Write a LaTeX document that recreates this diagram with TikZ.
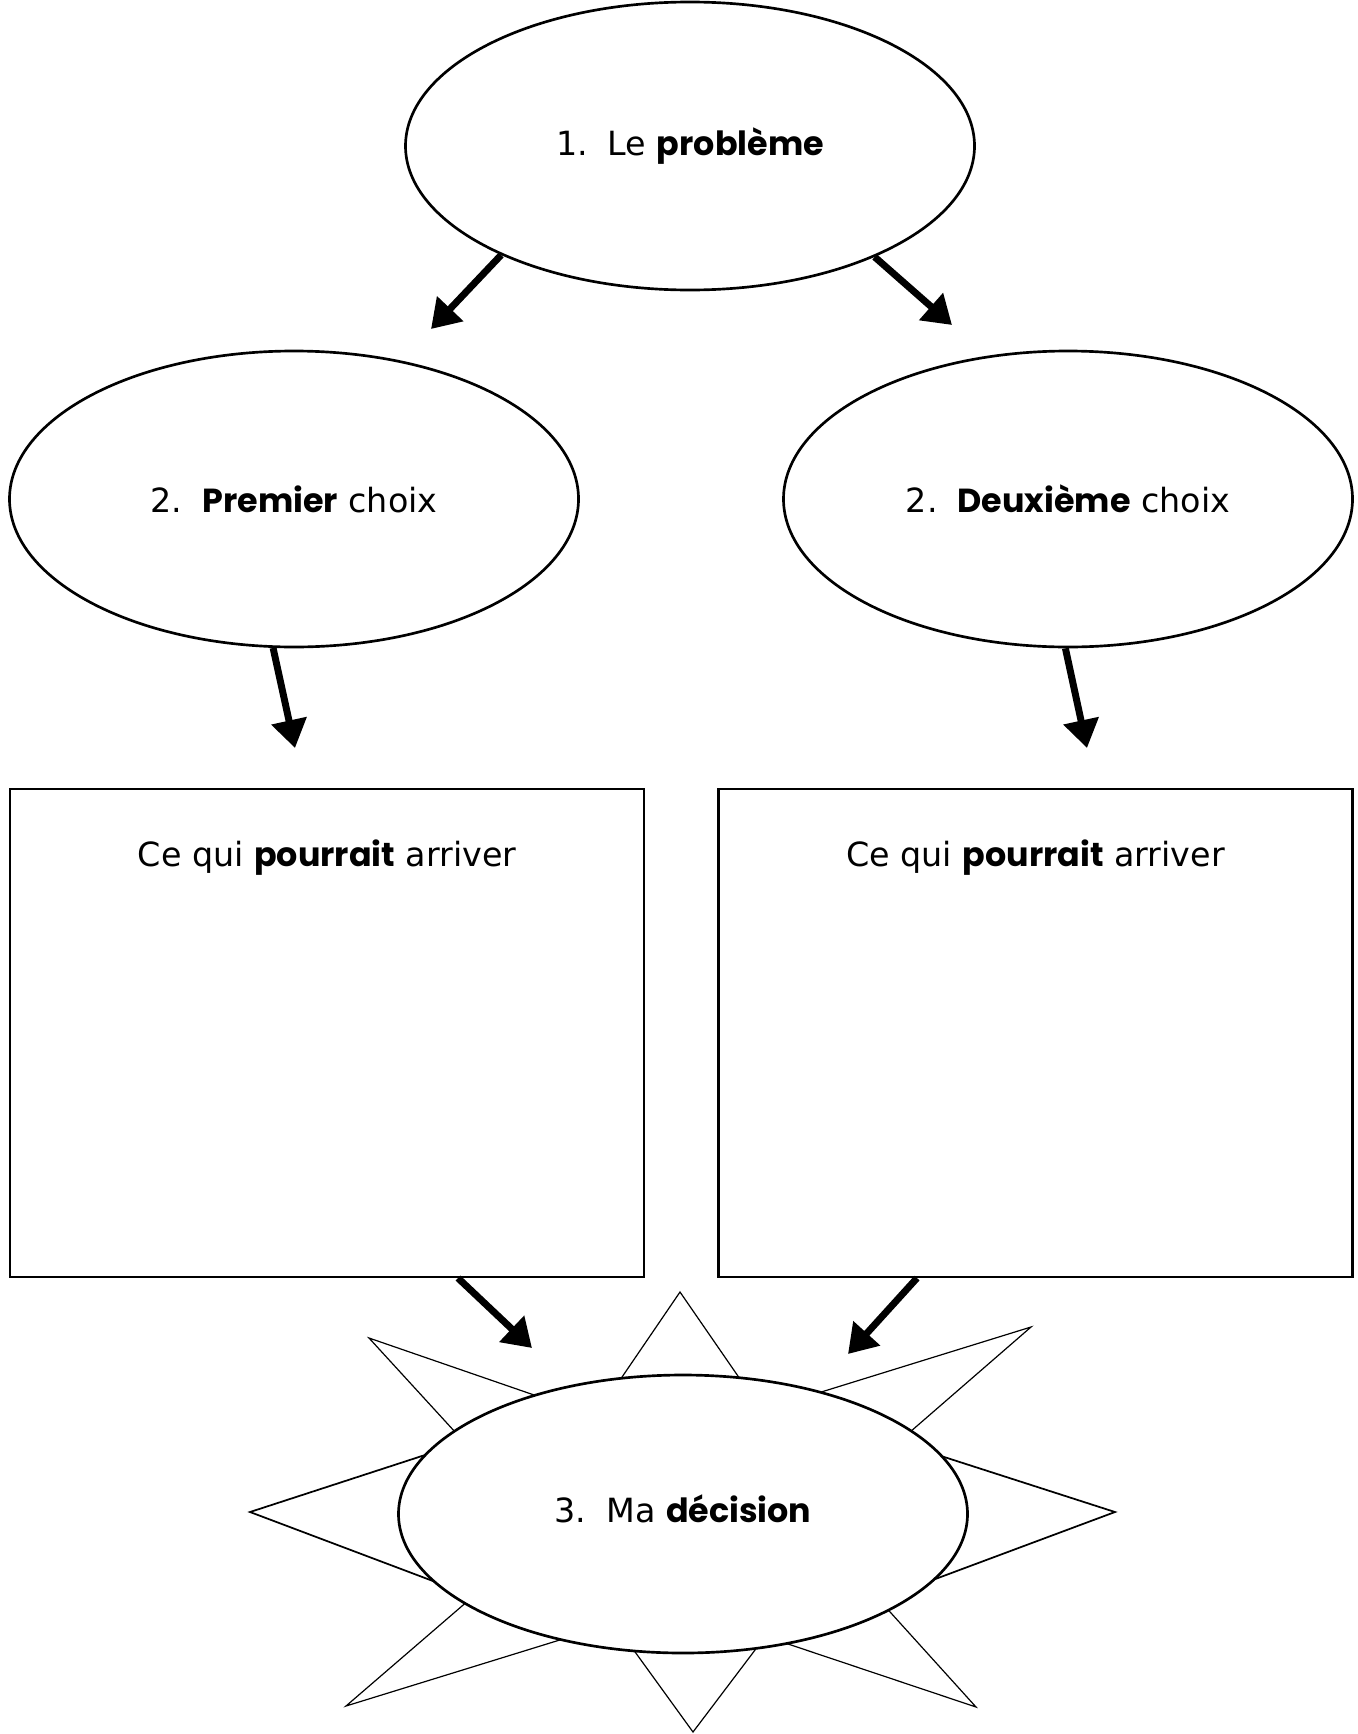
\documentclass[tikz,border=0pt]{standalone}
\usepackage{fontspec}
\setmainfont{DejaVu Sans}
\newfontfamily\boldfam{Poppins}
\usetikzlibrary{shapes.geometric,arrows.meta,calc}
\newcommand{\bw}[1]{{\boldfam\bfseries #1}}
\begin{document}
\begin{tikzpicture}[x=0.75pt,y=-0.75pt,
  txt/.style={font=\fontsize{25}{30}\selectfont},
  bubble/.style={ellipse, draw, line width=2pt, fill=white, inner sep=0pt,
    minimum width=426.75pt, minimum height=216pt, txt},
  panel/.style={rectangle, draw, line width=1.6pt, inner sep=0pt,
    minimum width=475.5pt, minimum height=366pt},
  bigarrow/.style={line width=5.2pt, -{Triangle[length=21pt,width=26pt]}},
  ray/.style={line width=0.9pt, line join=miter},
  thickray/.style={line width=1.3pt, line join=miter}]
\useasboundingbox (0,0) rectangle (1358,1734);
\fill[white] (0,0) rectangle (1358,1734);

% top problem
\node[bubble] (top) at (690,146) {1.\hspace{0.6em}Le \bw{problème}};
% choices
\node[bubble, minimum height=222pt] (L) at (294,499) {2.\hspace{0.6em}\bw{Premier} choix};
\node[bubble, minimum height=222pt] (R) at (1068,499) {2.\hspace{0.6em}\bw{Deuxième} choix};
% boxes
\node[panel] (boxL) at (327,1033) {};
\node[panel] (boxR) at (1035.5,1033) {};
\node[txt, anchor=base] (tL) at (327,866) {Ce qui \bw{pourrait} arriver};
\node[txt, anchor=base] (tR) at (1035.5,866) {Ce qui \bw{pourrait} arriver};

% arrow ends
\coordinate (e1) at (431,329);
\coordinate (e2) at (952,325);
\coordinate (e3) at (295,748);
\coordinate (e4) at (1087,748);
\coordinate (e5) at (532,1348);
\coordinate (e6) at (848,1354);

\draw[bigarrow] (top.210) -- (e1);
\draw[bigarrow] (top.329.4) -- (e2);
\draw[bigarrow] (L.262.7) -- (e3);
\draw[bigarrow] (R.269.6) -- (e4);
\draw[bigarrow] ([xshift=98.25pt]boxL.south) -- (e5);
\draw[bigarrow] ([xshift=-88.9pt]boxR.south) -- (e6);

% sun rays
\foreach \tp/\pa/\pb/\st in {
  {680,1292}/{620,1380}/{740,1379}/ray,
  {369,1338}/{537,1396}/{456,1433}/ray,
  {1031,1327}/{818,1393}/{910,1432}/ray,
  {250,1512}/{425,1455}/{425,1578}/thickray,
  {1115,1512}/{938,1455}/{938,1578}/thickray,
  {346,1706}/{462,1606}/{550,1643}/ray,
  {693,1732}/{638,1656}/{752,1654}/ray,
  {976,1707}/{891,1613}/{797,1647}/ray}
{
  \coordinate (t) at (\tp);
  \coordinate (a) at (\pa);
  \coordinate (b) at (\pb);
  \draw[\st] ($(t)!1.25!(a)$) -- (t) -- ($(t)!1.25!(b)$);
}

% decision
\node[bubble, minimum height=208.5pt] (dec) at (683,1514) {};
\node[txt, anchor=base] (dect) at (683,1522) {3.\hspace{0.6em}Ma \bw{décision}};
\end{tikzpicture}
\end{document}
